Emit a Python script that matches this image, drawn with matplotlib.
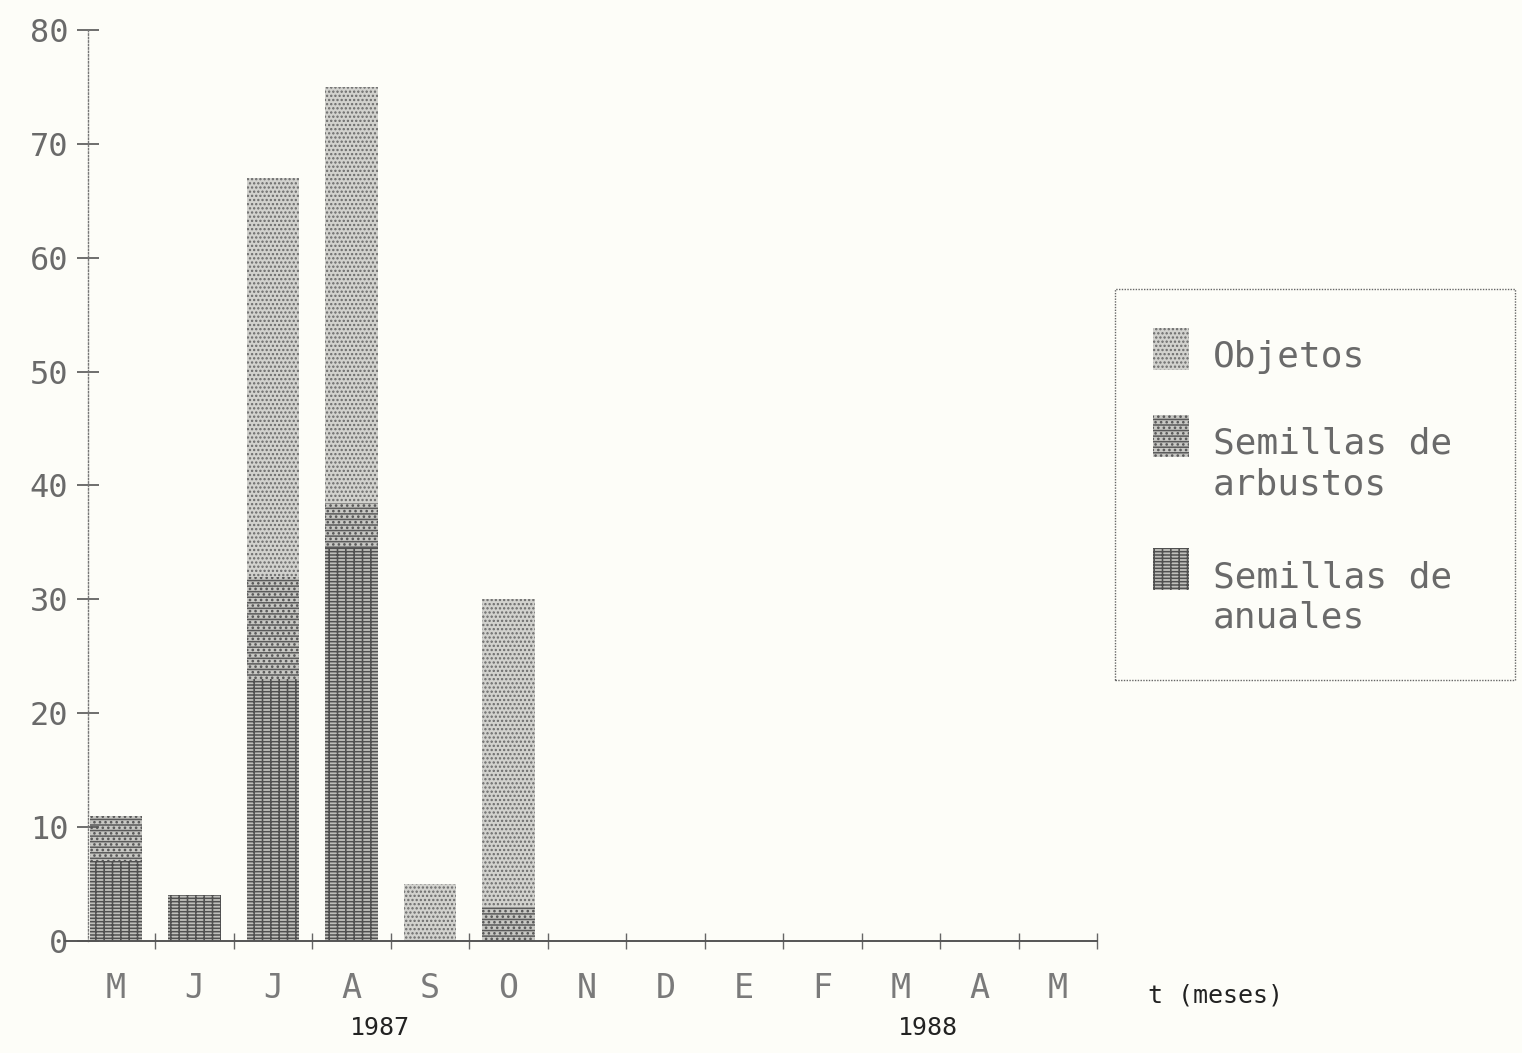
import matplotlib.pyplot as plt
from matplotlib.patches import Rectangle

months = ['M', 'J', 'J', 'A', 'S', 'O', 'N', 'D', 'E', 'F', 'M', 'A', 'M']
anuales = [7, 4, 23, 34.5, 0, 0, 0, 0, 0, 0, 0, 0, 0]
arbustos = [4, 0, 9, 4, 0, 3, 0, 0, 0, 0, 0, 0, 0]
objetos = [0, 0, 35, 36.5, 5, 27, 0, 0, 0, 0, 0, 0, 0]
yticks = [0, 10, 20, 30, 40, 50, 60, 70, 80]
legend_labels = ['Objetos', 'Semillas de\narbustos', 'Semillas de\nanuales']

paper = '#fdfdf8'
ink = '#6a6a6a'
mono = 'DejaVu Sans Mono'

plt.rcParams['hatch.linewidth'] = 1.1

styles = {
    'objetos': dict(facecolor='#d2d2ce', edgecolor='#6a6a6a', hatch='....'),
    'arbustos': dict(facecolor='#c8c8c4', edgecolor='#5a5a5a', hatch='---...'),
    'anuales': dict(facecolor='#c0c0bc', edgecolor='#505050', hatch='-----||'),
}

fig = plt.figure(figsize=(15.22, 10.53), dpi=100, facecolor=paper)
ax = fig.add_axes([65 / 1522, 1 - 941 / 1053, 1032 / 1522, 911 / 1053])
ax.set_facecolor(paper)

x = list(range(len(months)))
width = 0.67
bottom2 = [a + b for a, b in zip(anuales, arbustos)]
ax.bar(x, anuales, width, linewidth=0, **styles['anuales'])
ax.bar(x, arbustos, width, bottom=anuales, linewidth=0, **styles['arbustos'])
ax.bar(x, objetos, width, bottom=bottom2, linewidth=0, **styles['objetos'])

ax.set_xlim(-0.65, 12.5)
ax.set_ylim(0, 80)

for s in ['top', 'right']:
    ax.spines[s].set_visible(False)
ax.spines['left'].set_position(('data', -0.36))
ax.spines['left'].set_linestyle((0, (1, 1.5)))
ax.spines['left'].set_color('#777777')
ax.spines['left'].set_linewidth(1.0)
ax.spines['bottom'].set_color('#555555')
ax.spines['bottom'].set_linewidth(1.4)

ax.set_yticks(yticks)
ax.set_yticklabels([str(v) for v in yticks], family=mono, fontsize=23, color=ink)
ax.tick_params(axis='y', direction='inout', length=16, width=1.2, color='#555555', pad=6)

ax.set_xticks([i + 0.5 for i in x])
ax.set_xticklabels([])
ax.tick_params(axis='x', which='major', direction='inout', length=12, width=1.0, color='#666666')
ax.set_xticks(x, minor=True)
ax.set_xticklabels(months, minor=True, family=mono, fontsize=24, color='#7a7a7a')
ax.tick_params(axis='x', which='minor', length=0, pad=22)

ax.text(3.36, -0.095, '1987', transform=ax.get_xaxis_transform(), ha='center', va='center',
        family=mono, fontsize=18, color='#222222')
ax.text(10.34, -0.095, '1988', transform=ax.get_xaxis_transform(), ha='center', va='center',
        family=mono, fontsize=18, color='#222222')
fig.text(1148 / 1522, 1 - 996 / 1053, 't (meses)', ha='left', va='center',
         family=mono, fontsize=18, color='#222222')

# legend box drawn by hand so each swatch lines up with the first line of its label
fig.add_artist(Rectangle((1115 / 1522, 1 - 680 / 1053), 400 / 1522, 391 / 1053,
                         transform=fig.transFigure, fill=False, edgecolor='#666666',
                         linewidth=1.0, linestyle=(0, (1, 1))))
swatch_tops = [328, 415, 548]
for top, key, label in zip(swatch_tops, ['objetos', 'arbustos', 'anuales'], legend_labels):
    fig.add_artist(Rectangle((1153 / 1522, 1 - (top + 42) / 1053), 36 / 1522, 42 / 1053,
                             transform=fig.transFigure, linewidth=0, **styles[key]))
    fig.text(1213 / 1522, 1 - (top + 12) / 1053, label, ha='left', va='top',
             family=mono, fontsize=26, color=ink, linespacing=1.25)

fig.savefig('out.png', dpi=100, facecolor=paper)
